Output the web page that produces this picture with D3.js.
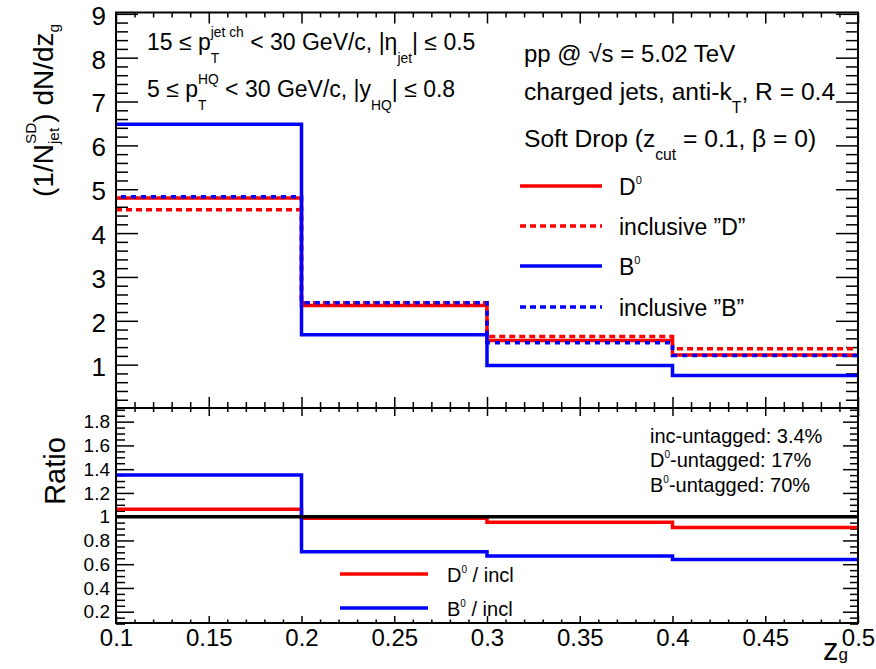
<!DOCTYPE html>
<html><head><meta charset="utf-8">
<script src="https://cdn.jsdelivr.net/npm/d3@7/dist/d3.min.js"></script>
<style>
body{margin:0;background:#fff}
svg{display:block}
text{font-family:"Liberation Sans",Arial,Helvetica,sans-serif;white-space:pre}
</style>
</head><body>
<svg id="c" width="876" height="669"></svg>
<script>
// ---------- data ----------
const binEdges = [0.1, 0.2, 0.3, 0.4, 0.5];
const seriesD0 = [4.80, 2.35, 1.55, 1.22];
const seriesInclD = [4.53, 2.41, 1.64, 1.36];
const seriesB0 = [6.48, 1.68, 0.98, 0.75];
const seriesInclB = [4.83, 2.41, 1.50, 1.21];
const ratioD0 = [1.062, 0.987, 0.953, 0.91];
const ratioB0 = [1.35, 0.705, 0.67, 0.64];
const ratioRef = [1, 1, 1, 1];
const xTickValues = [0.1, 0.15, 0.2, 0.25, 0.3, 0.35, 0.4, 0.45, 0.5];
const xTickLabels = ["0.1", "0.15", "0.2", "0.25", "0.3", "0.35", "0.4", "0.45", "0.5"];
const topYTickValues = [1, 2, 3, 4, 5, 6, 7, 8, 9];
const topYTickLabels = ["1", "2", "3", "4", "5", "6", "7", "8", "9"];
const ratioYTickValues = [0.2, 0.4, 0.6, 0.8, 1, 1.2, 1.4, 1.6, 1.8];
const ratioYTickLabels = ["0.2", "0.4", "0.6", "0.8", "1", "1.2", "1.4", "1.6", "1.8"];

// ---------- layout ----------
const svg = d3.select("#c");
const L = 116, R = 858, T = 12.5, M = 408, B = 623;
const x = d3.scaleLinear([0.1, 0.5], [L, R]);
const yTop = d3.scaleLinear([0, 9.03], [408.5, T]);
const yRat = d3.scaleLinear([0.105, 1.915], [B, M]);

const xMinor = d3.range(10, 51).map(d => d / 100).filter(d => Math.abs(d * 20 - Math.round(d * 20)) > 1e-6);
const topYMinor = d3.range(1, 46).map(d => d / 5).filter(d => Math.abs(d - Math.round(d)) > 1e-6);
const ratMinor = d3.range(2, 39).map(d => d / 20).filter(d => Math.abs(d * 5 - Math.round(d * 5)) > 1e-6);

function axis(gen, scale, vals, size, tx, ty, labels, pad, fs, dy) {
  const a = gen(scale).tickValues(vals).tickSize(size).tickSizeOuter(0);
  if (labels) a.tickFormat((d, i) => labels[i]).tickPadding(pad); else a.tickFormat("");
  const g = svg.append("g").attr("transform", `translate(${tx},${ty})`).call(a);
  g.select(".domain").remove();
  g.selectAll("line").attr("stroke", "#000").attr("stroke-width", 1.5);
  g.selectAll("text").attr("font-size", fs || 20).attr("fill", "#000")
    .attr("font-family", '"Liberation Sans",Arial,sans-serif');
  if (dy) g.selectAll("text").attr("dy", dy);
  return g;
}

// top panel axes
axis(d3.axisLeft, yTop, topYTickValues, -22, L, 0, topYTickLabels, 10, 26, "0.4em");
axis(d3.axisLeft, yTop, topYMinor, -12, L, 0);
axis(d3.axisRight, yTop, topYTickValues, -22, R, 0);
axis(d3.axisRight, yTop, topYMinor, -12, R, 0);
axis(d3.axisBottom, x, xTickValues, -11, 0, M);
axis(d3.axisBottom, x, xMinor, -6, 0, M);
axis(d3.axisTop, x, xTickValues, -11, 0, T);
axis(d3.axisTop, x, xMinor, -5, 0, T);
// ratio panel axes
axis(d3.axisLeft, yRat, ratioYTickValues, -18, L, 0, ratioYTickLabels, 6, 19);
axis(d3.axisLeft, yRat, ratMinor, -9, L, 0);
axis(d3.axisRight, yRat, ratioYTickValues, -15, R, 0);
axis(d3.axisRight, yRat, ratMinor, -8, R, 0);
axis(d3.axisTop, x, xTickValues, -8, 0, M);
axis(d3.axisTop, x, xMinor, -4, 0, M);
axis(d3.axisBottom, x, xTickValues, -7, 0, B, xTickLabels, 6, 24);
axis(d3.axisBottom, x, xMinor, -3.5, 0, B);

// ---------- histograms ----------
function step(vals, ys) {
  const pts = binEdges.map((e, i) => [x(e), ys(vals[Math.min(i, vals.length - 1)])]);
  return d3.line().curve(d3.curveStepAfter)(pts);
}
function hist(vals, ys, color, dash, off, w) {
  svg.append("path").attr("d", step(vals, ys)).attr("fill", "none")
    .attr("stroke", color).attr("stroke-width", w || 3.5)
    .attr("stroke-dasharray", dash || null).attr("stroke-dashoffset", off || 0);
}
hist(seriesD0, yTop, "#ff0000");
hist(seriesInclD, yTop, "#ff0000", "6,4", 0);
hist(seriesB0, yTop, "#0000ff");
hist(seriesInclB, yTop, "#0000ff", "5,5", 5);

hist(ratioD0, yRat, "#ff0000");
hist(ratioB0, yRat, "#0000ff");
hist(ratioRef, yRat, "#000000", null, 0, 3.5);

// frames
svg.append("rect").attr("x", L).attr("y", T).attr("width", R - L).attr("height", M - T)
  .attr("fill", "none").attr("stroke", "#000").attr("stroke-width", 2);
svg.append("rect").attr("x", L).attr("y", M).attr("width", R - L).attr("height", B - M)
  .attr("fill", "none").attr("stroke", "#000").attr("stroke-width", 2);

// ---------- rich text ----------
function rich(transform, parts, o) {
  const size = o.size, ss = size * (o.scale || 0.58), up = size * (o.up || 0.55), dn = size * (o.dn === undefined ? 0.5 : o.dn);
  const g = svg.append("g").attr("transform", transform);
  let cx = 0;
  const put = (t, s, dy) => {
    const el = g.append("text").attr("x", cx).attr("y", dy).attr("font-size", s)
      .attr("fill", "#000").attr("xml:space", "preserve").text(t);
    return el.node().getComputedTextLength();
  };
  parts.forEach(p => {
    if (typeof p === "string") cx += put(p, size, 0);
    else {
      let w1 = 0, w2 = 0;
      if (p.sup) w1 = put(p.sup, ss, -up);
      if (p.sub) w2 = put(p.sub, ss, dn);
      cx += Math.max(w1, w2);
    }
  });
  if (o.anchor === "middle" || o.anchor === "end") {
    const sh = o.anchor === "middle" ? -cx / 2 : -cx;
    g.selectAll("text").attr("x", function () { return +this.getAttribute("x") + sh; });
  }
  return g;
}

// axis titles
rich("translate(53,197) rotate(-90)", ["(1/N", {sup: "SD", sub: "jet"}, ") dN/dz", {sub: "g"}],
  {size: 28, scale: 0.55, up: 0.62, dn: 0.22});
rich("translate(65,471) rotate(-90)", ["Ratio"], {size: 29, anchor: "middle"});
rich("translate(823,660)", ["z", {sub: "g"}], {size: 31, scale: 0.55, dn: 0});

// top-left kinematics
rich("translate(147,50)", ["15 ≤ p", {sup: "jet ch", sub: "T"}, " < 30 GeV/c, |η", {sub: "jet"}, "| ≤ 0.5"],
  {size: 23, scale: 0.6, up: 0.55, dn: 0.55});
rich("translate(147,97)", ["5 ≤ p", {sup: "HQ", sub: "T"}, " < 30 GeV/c, |y", {sub: "HQ"}, "| ≤ 0.8"],
  {size: 23, scale: 0.6, up: 0.55, dn: 0.55});

// top-right info
rich("translate(524,62)", ["pp @ √s = 5.02 TeV"], {size: 24});
rich("translate(524,100)", ["charged jets, anti-k", {sub: "T"}, ", R = 0.4"], {size: 24.6, scale: 0.64, dn: 0.52});
rich("translate(524,147)", ["Soft Drop (z", {sub: "cut"}, " = 0.1, β = 0)"], {size: 24.6, scale: 0.64, dn: 0.52});

// legend top
const legItems = [
  {parts: ["D", {sup: "0"}], color: "#ff0000", dash: null, y: 186},
  {parts: ["inclusive \u201dD\u201d"], color: "#ff0000", dash: "6,4", y: 226},
  {parts: ["B", {sup: "0"}], color: "#0000ff", dash: null, y: 266},
  {parts: ["inclusive \u201dB\u201d"], color: "#0000ff", dash: "6,4", y: 307}
];
legItems.forEach(it => {
  svg.append("line").attr("x1", 520).attr("x2", 602).attr("y1", it.y).attr("y2", it.y)
    .attr("stroke", it.color).attr("stroke-width", 3.5).attr("stroke-dasharray", it.dash);
  rich(`translate(619,${it.y + 8.5})`, it.parts, {size: 23, scale: 0.48, up: 0.45});
});

// ratio legend
[{parts: ["D", {sup: "0"}, " / incl"], color: "#ff0000", y: 574},
 {parts: ["B", {sup: "0"}, " / incl"], color: "#0000ff", y: 608}].forEach(it => {
  svg.append("line").attr("x1", 340).attr("x2", 428).attr("y1", it.y).attr("y2", it.y)
    .attr("stroke", it.color).attr("stroke-width", 3.5);
  rich(`translate(447,${it.y + 7.5})`, it.parts, {size: 20, scale: 0.5, up: 0.45});
});

// ratio annotations
rich("translate(650,443)", ["inc-untagged: 3.4%"], {size: 20});
rich("translate(650,467)", ["D", {sup: "0"}, "-untagged: 17%"], {size: 20, scale: 0.5, up: 0.45});
rich("translate(650,492)", ["B", {sup: "0"}, "-untagged: 70%"], {size: 20, scale: 0.5, up: 0.45});
</script>
</body></html>
